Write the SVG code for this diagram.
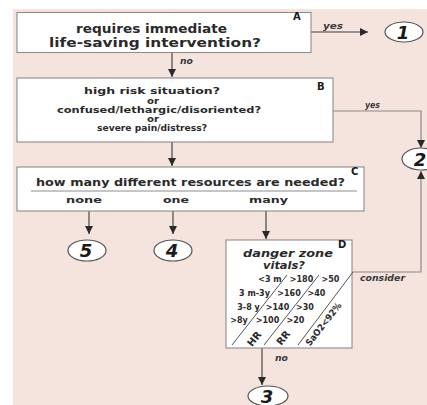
<svg xmlns="http://www.w3.org/2000/svg" width="427" height="405" viewBox="0 0 427 405">
<defs>
<marker id="ah" markerUnits="userSpaceOnUse" markerWidth="9" markerHeight="8" refX="8" refY="4" orient="auto">
<path d="M0,0 L8,4 L0,8 z" fill="#2a2a2a"/>
</marker>
<style>
.box{fill:#ffffff;stroke:#8c8c8c;stroke-width:1.1}
.t{font-family:"DejaVu Sans","Liberation Sans",sans-serif;font-weight:bold;fill:#2a2a2a}
.m{font-size:11.5px}
.b{font-size:9px}
.s{font-size:8px}
.lab{font-family:"DejaVu Sans","Liberation Sans",sans-serif;font-weight:bold;font-size:10px;fill:#1a1a1a}
.lbl{font-family:"DejaVu Sans","Liberation Sans",sans-serif;font-weight:bold;font-style:italic;font-size:8px;fill:#3a3a3a}
.dark{fill:none;stroke:#3a3a3a;stroke-width:1.1}
.grey{fill:none;stroke:#8a8a8a;stroke-width:1.2}
.circ{fill:#ffffff;stroke:#555555;stroke-width:1.2}
.num{font-family:"DejaVu Sans","Liberation Sans",sans-serif;font-weight:bold;font-style:italic;font-size:18px;fill:#1a1a1a;text-anchor:middle}
.diag{stroke:#555555;stroke-width:1;fill:none}
</style>
</defs>
<rect x="0" y="0" width="427" height="405" fill="#ffffff"/>
<rect x="13" y="9" width="414" height="396" fill="#f5e3de"/>

<g id="connectors">
<path class="dark" d="M311,32 H368" marker-end="url(#ah)"/>
<path class="dark" d="M172,53 V77" marker-end="url(#ah)"/>
<path class="grey" d="M333,111 H421 V148" marker-end="url(#ah)"/>
<path class="dark" d="M172,142 V166" marker-end="url(#ah)"/>
<path class="dark" d="M89,211 V234" marker-end="url(#ah)"/>
<path class="dark" d="M173,211 V234" marker-end="url(#ah)"/>
<path class="dark" d="M266,211 V239" marker-end="url(#ah)"/>
<path class="grey" d="M352,272 H421 V171" marker-end="url(#ah)"/>
<path class="dark" d="M262,348 V385" marker-end="url(#ah)"/>
<text class="lbl" x="323" y="29" textLength="20" lengthAdjust="spacingAndGlyphs">yes</text>
<text class="lbl" x="180" y="64" textLength="13" lengthAdjust="spacingAndGlyphs">no</text>
<text class="lbl" x="365" y="108" textLength="15" lengthAdjust="spacingAndGlyphs">yes</text>
<text class="lbl" x="360" y="281" textLength="45" lengthAdjust="spacingAndGlyphs">consider</text>
<text class="lbl" x="275" y="361" textLength="13" lengthAdjust="spacingAndGlyphs">no</text>
</g>

<g id="nodeA">
<rect class="box" x="17" y="12.5" width="294" height="40"/>
<text class="t m" x="76" y="33" textLength="151" lengthAdjust="spacingAndGlyphs">requires immediate</text>
<text class="t m" x="49" y="47" textLength="212" lengthAdjust="spacingAndGlyphs">life-saving intervention?</text>
<text class="lab" x="293" y="20">A</text>
</g>

<g id="nodeB">
<rect class="box" x="17" y="78" width="316" height="64"/>
<text class="t b" x="84" y="94" textLength="136" lengthAdjust="spacingAndGlyphs">high risk situation?</text>
<text class="t b" x="153" y="103.5" text-anchor="middle" textLength="12" lengthAdjust="spacingAndGlyphs">or</text>
<text class="t b" x="57" y="113" textLength="204" lengthAdjust="spacingAndGlyphs">confused/lethargic/disoriented?</text>
<text class="t b" x="153" y="122" text-anchor="middle" textLength="12" lengthAdjust="spacingAndGlyphs">or</text>
<text class="t b" x="97" y="131" textLength="110" lengthAdjust="spacingAndGlyphs">severe pain/distress?</text>
<text class="lab" x="317" y="90">B</text>
</g>

<g id="nodeC">
<rect class="box" x="17" y="167" width="347" height="44"/>
<text class="t" font-size="10.5" x="36" y="186" textLength="309" lengthAdjust="spacingAndGlyphs">how many different resources are needed?</text>
<line x1="31" y1="191" x2="357" y2="191" stroke="#8c8c8c" stroke-width="1"/>
<text class="t" font-size="9.5" x="66" y="202.5" textLength="36" lengthAdjust="spacingAndGlyphs">none</text>
<text class="t" font-size="9.5" x="163" y="202.5" textLength="26" lengthAdjust="spacingAndGlyphs">one</text>
<text class="t" font-size="9.5" x="249" y="203" textLength="39" lengthAdjust="spacingAndGlyphs">many</text>
<text class="lab" x="351" y="175">C</text>
</g>

<g id="nodeD">
<rect class="box" x="226" y="240" width="126" height="108"/>
<text class="t" font-style="italic" font-size="11" x="243" y="257" textLength="90" lengthAdjust="spacingAndGlyphs">danger zone</text>
<text class="t" font-style="italic" font-size="11" x="263" y="269" textLength="42" lengthAdjust="spacingAndGlyphs">vitals?</text>
<text class="lab" x="338" y="248">D</text>
<line class="diag" x1="287" y1="275" x2="232" y2="345"/>
<line class="diag" x1="319" y1="275" x2="264" y2="345"/>
<line class="diag" x1="353" y1="272" x2="298" y2="345"/>
<g class="t s" text-anchor="middle">
<text x="270" y="282">&lt;3 m</text>
<text x="301.5" y="282">&gt;180</text>
<text x="330.5" y="282">&gt;50</text>
<text x="254.5" y="295.5">3 m-3y</text>
<text x="289" y="295.5">&gt;160</text>
<text x="316.5" y="295.5">&gt;40</text>
<text x="248.5" y="310">3-8 y</text>
<text x="277.5" y="310">&gt;140</text>
<text x="305" y="310">&gt;30</text>
<text x="239" y="323">&gt;8y</text>
<text x="267.5" y="323">&gt;100</text>
<text x="295.5" y="323">&gt;20</text>
</g>
<text class="t" font-size="10" text-anchor="middle" transform="translate(257,341) rotate(-52)">HR</text>
<text class="t" font-size="10" text-anchor="middle" transform="translate(286,340) rotate(-52)">RR</text>
<text class="t" font-size="9" text-anchor="middle" transform="translate(326,326) rotate(-52)" textLength="52" lengthAdjust="spacingAndGlyphs">SaO2&lt;92%</text>
</g>

<g id="out1"><ellipse class="circ" cx="404" cy="32" rx="19" ry="10"/><text class="num" x="403" y="38.5">1</text></g>
<g id="out2"><ellipse class="circ" cx="421" cy="159" rx="19" ry="11"/><text class="num" x="420" y="165.5">2</text></g>
<g id="out5"><ellipse class="circ" cx="87" cy="250.5" rx="19" ry="10.5"/><text class="num" x="86" y="257">5</text></g>
<g id="out4"><ellipse class="circ" cx="173" cy="250.5" rx="19" ry="10.5"/><text class="num" x="172" y="257">4</text></g>
<g id="out3"><ellipse class="circ" cx="268" cy="396" rx="20" ry="10"/><text class="num" x="267" y="402.5">3</text></g>
</svg>
